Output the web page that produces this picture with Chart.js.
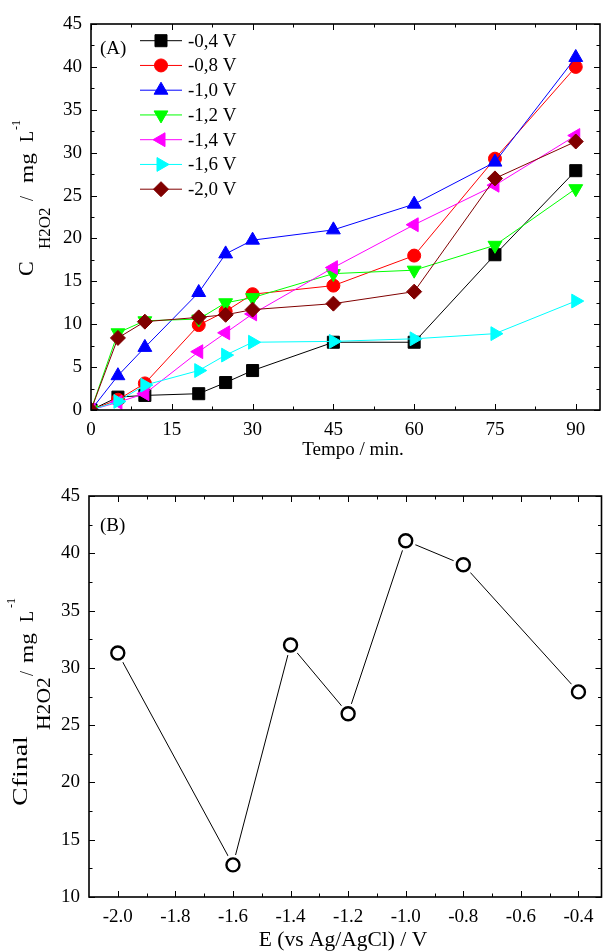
<!DOCTYPE html>
<html><head><meta charset="utf-8">
<script src="https://cdn.jsdelivr.net/npm/chart.js@4.4.0/dist/chart.umd.min.js"></script>
<style>
html,body{margin:0;padding:0;background:#fff;}
#wrap{position:relative;width:603px;height:952px;overflow:hidden;background:#fff;}
canvas{position:absolute;left:0;}
#c1{top:0;} #c2{top:470px;}
</style></head><body>
<div id="wrap"><canvas id="c1" width="603" height="470"></canvas><canvas id="c2" width="603" height="482"></canvas></div>
<script>
// ---------- data (panel A) ----------
const timeMin = [0, 5, 10, 20, 25, 30, 45, 60, 75, 90];
const seriesLabels = ['-0,4 V', '-0,8 V', '-1,0 V', '-1,2 V', '-1,4 V', '-1,6 V', '-2,0 V'];
const s04 = [0, 1.5, 1.7, 1.9, 3.2, 4.6, 7.9, 7.9, 18.1, 27.9];
const s08 = [0, 1.2, 3.1, 9.9, 11.5, 13.5, 14.5, 18.0, 29.3, 40.0];
const s10 = [0, 4.0, 7.3, 13.7, 18.2, 19.8, 21.0, 24.0, 28.9, 41.1];
const s12 = [0, 9.0, 10.4, 10.6, 12.5, 13.1, 15.9, 16.3, 19.2, 25.8];
const s14 = [0, 0.9, 1.9, 6.8, 9.0, 11.2, 16.6, 21.6, 26.2, 32.0];
const s16 = [0, 1.0, 2.9, 4.6, 6.4, 7.9, 8.0, 8.3, 8.9, 12.7];
const s20 = [0, 8.4, 10.3, 10.8, 11.1, 11.7, 12.4, 13.8, 27.0, 31.3];
const timeTicks = [0, 15, 30, 45, 60, 75, 90];
const concTicksA = [0, 5, 10, 15, 20, 25, 30, 35, 40, 45];
// ---------- data (panel B) ----------
const potentials = [-2.0, -1.6, -1.4, -1.2, -1.0, -0.8, -0.4];
const finalConc = [31.3, 12.8, 32.0, 26.0, 41.1, 39.0, 27.9];
const potentialTicks = [-2.0, -1.8, -1.6, -1.4, -1.2, -1.0, -0.8, -0.6, -0.4];
const concTicksB = [10, 15, 20, 25, 30, 35, 40, 45];

// ---------- styles ----------
const seriesValues = [s04, s08, s10, s12, s14, s16, s20];
const seriesColors = ['#000000', '#ff0000', '#0000ff', '#00ff00', '#ff00ff', '#00ffff', '#800000'];
const markerStyles = ['rect', 'circle', 'triangle', 'triangle', 'triangle', 'triangle', 'rectRot'];
const markerRot = [0, 0, 0, 180, 270, 90, 0];
const markerRad = [8.5, 6.5, 8, 8, 8, 8, 7.5];
const SERIF = '"Liberation Serif", "Times New Roman", serif';

function minors(ticks) {
  const m = [];
  for (let i = 0; i < ticks.length - 1; i++) m.push((ticks[i] + ticks[i + 1]) / 2);
  return m;
}

const framePlugin = {
  id: 'frameTicks',
  afterDraw(chart) {
    const {ctx, chartArea: a} = chart;
    const xs = chart.scales.x, ys = chart.scales.y;
    const cfg = chart.options.plugins.frameTicks;
    ctx.save();
    ctx.strokeStyle = '#000';
    ctx.lineWidth = 1;
    ctx.beginPath();
    const seg = (x1, y1, x2, y2) => { ctx.moveTo(x1, y1); ctx.lineTo(x2, y2); };
    const xv = (list, len) => list.forEach(v => {
      const p = Math.round(xs.getPixelForValue(v)) + 0.5;
      if (p < a.left - 1 || p > a.right + 1) return;
      seg(p, a.bottom, p, a.bottom - len); seg(p, a.top, p, a.top + len);
    });
    const yv = (list, len) => list.forEach(v => {
      const p = Math.round(ys.getPixelForValue(v)) + 0.5;
      if (p < a.top - 1 || p > a.bottom + 1) return;
      seg(a.left, p, a.left + len, p); seg(a.right, p, a.right - len, p);
    });
    xv(cfg.xMajor, 6); xv(minors(cfg.xMajor), 3.5);
    yv(cfg.yMajor, 6); yv(minors(cfg.yMajor), 3.5);
    ctx.stroke();
    ctx.lineWidth = 1.6;
    ctx.strokeRect(a.left, a.top, a.right - a.left, a.bottom - a.top);
    ctx.restore();
  }
};

const titlePlugin = {
  id: 'richTitles',
  afterDraw(chart) {
    const ctx = chart.ctx;
    const cfg = chart.options.plugins.richTitles;
    ctx.save();
    ctx.fillStyle = '#000';
    ctx.textBaseline = 'alphabetic';
    ctx.textAlign = 'left';
    (cfg.rotated || []).forEach(p => {
      ctx.save();
      ctx.translate(p.x, p.y);
      ctx.rotate(-Math.PI / 2);
      ctx.scale(p.sx || 1, 1);
      ctx.font = p.size + 'px ' + SERIF;
      ctx.fillText(p.t, 0, 0);
      ctx.restore();
    });
    (cfg.flat || []).forEach(p => {
      ctx.font = p.size + 'px ' + SERIF;
      ctx.textAlign = p.align || 'left';
      ctx.fillText(p.t, p.x, p.y);
    });
    ctx.restore();
  }
};

const legendPlugin = {
  id: 'inlineLegend',
  afterDatasetsDraw(chart) {
    const ctx = chart.ctx;
    chart.data.datasets.forEach((ds, i) => {
      const y = 40.7 + i * 24.75;
      ctx.save();
      ctx.strokeStyle = ds.borderColor; ctx.lineWidth = 1;
      ctx.beginPath(); ctx.moveTo(140, y); ctx.lineTo(182, y); ctx.stroke();
      ctx.fillStyle = ds.backgroundColor; ctx.strokeStyle = ds.borderColor;
      Chart.helpers.drawPoint(ctx, {pointStyle: ds.pointStyle, radius: ds.pointRadius, rotation: ds.pointRotation || 0, borderWidth: 1}, 161, y);
      ctx.fillStyle = '#000';
      ctx.font = '19px ' + SERIF;
      ctx.textBaseline = 'middle'; ctx.textAlign = 'left';
      ctx.fillText(ds.label, 188, y + 1);
      ctx.restore();
    });
  }
};

const tickFont = {family: SERIF, size: 19};
const noPad = s => { s.paddingLeft = 0; s.paddingRight = 0; };

// ---------- panel A ----------
new Chart(document.getElementById('c1'), {
  type: 'line',
  data: {
    datasets: seriesValues.map((vals, i) => ({
      label: seriesLabels[i],
      data: timeMin.map((t, j) => ({x: t, y: vals[j]})),
      borderColor: seriesColors[i],
      backgroundColor: seriesColors[i],
      borderWidth: 1,
      pointStyle: markerStyles[i],
      pointRotation: markerRot[i],
      pointRadius: markerRad[i],
      pointBorderWidth: 1,
      pointBackgroundColor: seriesColors[i],
      pointBorderColor: seriesColors[i],
      tension: 0,
      fill: false,
      order: seriesValues.length - i
    }))
  },
  options: {
    responsive: false, animation: false, devicePixelRatio: 1,
    layout: {autoPadding: false, padding: {top: 24, right: 3, left: 0, bottom: 0}},
    plugins: {
      legend: {display: false}, tooltip: {enabled: false},
      frameTicks: {xMajor: timeTicks, yMajor: concTicksA},
      richTitles: {
        rotated: [
          {t: 'C', size: 22, x: 33, y: 276},
          {t: 'H2O2', size: 17, x: 50, y: 249},
          {t: '/', size: 18, x: 33, y: 201},
          {t: 'mg', size: 18, x: 33, y: 183, sx: 1.3},
          {t: 'L', size: 18, x: 33, y: 142},
          {t: '-1', size: 12, x: 20, y: 130}
        ],
        flat: [
          {t: 'Tempo / min.', size: 19, x: 353, y: 455, align: 'center'},
          {t: '(A)', size: 19, x: 100, y: 54}
        ]
      }
    },
    scales: {
      x: {
        type: 'linear', min: 0, max: 94.5,
        grid: {display: false, drawTicks: false}, border: {display: false},
        afterBuildTicks: s => { s.ticks = timeTicks.map(v => ({value: v})); },
        afterFit: s => { s.height = 60; noPad(s); },
        ticks: {padding: 9, color: '#000', font: tickFont, maxRotation: 0, autoSkip: false}
      },
      y: {
        type: 'linear', min: 0, max: 45,
        grid: {display: false, drawTicks: false}, border: {display: false},
        afterBuildTicks: s => { s.ticks = concTicksA.map(v => ({value: v})); },
        afterFit: s => { s.width = 91; },
        ticks: {padding: 9, color: '#000', font: tickFont, autoSkip: false}
      }
    }
  },
  plugins: [framePlugin, legendPlugin, titlePlugin]
});

// ---------- panel B ----------
const ptsB = potentials.map((p, j) => ({x: p, y: finalConc[j]}));
new Chart(document.getElementById('c2'), {
  type: 'line',
  data: {
    datasets: [
      {label: 'markers', data: ptsB, showLine: false, pointStyle: 'circle', pointRadius: 6.5,
       pointBorderWidth: 2.4, pointBorderColor: '#000', pointBackgroundColor: '#fff', order: 1},
      {label: 'gap', data: ptsB, showLine: false, pointStyle: 'circle', pointRadius: 10.5,
       pointBorderWidth: 0, pointBorderColor: '#fff', pointBackgroundColor: '#fff', order: 2},
      {label: 'line', data: ptsB, borderColor: '#000', borderWidth: 1, pointRadius: 0, tension: 0, fill: false, order: 3}
    ]
  },
  options: {
    responsive: false, animation: false, devicePixelRatio: 1,
    layout: {autoPadding: false, padding: {top: 26, right: 1.5, left: 0, bottom: 0}},
    plugins: {
      legend: {display: false}, tooltip: {enabled: false},
      frameTicks: {xMajor: potentialTicks, yMajor: concTicksB},
      richTitles: {
        rotated: [
          {t: 'Cfinal', size: 22, x: 27, y: 336, sx: 1.27},
          {t: 'H2O2', size: 18, x: 50, y: 260, sx: 1.2},
          {t: '/', size: 18, x: 33, y: 206},
          {t: 'mg', size: 18, x: 33, y: 193, sx: 1.3},
          {t: 'L', size: 18, x: 33, y: 152},
          {t: '-1', size: 12, x: 15, y: 138}
        ],
        flat: [
          {t: 'E (vs Ag/AgCl) / V', size: 21.5, x: 343, y: 476, align: 'center'},
          {t: '(B)', size: 19, x: 100, y: 61}
        ]
      }
    },
    scales: {
      x: {
        type: 'linear', min: -2.1, max: -0.32,
        grid: {display: false, drawTicks: false}, border: {display: false},
        afterBuildTicks: s => { s.ticks = potentialTicks.map(v => ({value: v})); },
        afterFit: s => { s.height = 55; noPad(s); },
        ticks: {padding: 9, color: '#000', font: tickFont, maxRotation: 0, autoSkip: false,
                callback: v => Number(v).toFixed(1)}
      },
      y: {
        type: 'linear', min: 10, max: 45,
        grid: {display: false, drawTicks: false}, border: {display: false},
        afterBuildTicks: s => { s.ticks = concTicksB.map(v => ({value: v})); },
        afterFit: s => { s.width = 89; },
        ticks: {padding: 9, color: '#000', font: tickFont, autoSkip: false}
      }
    }
  },
  plugins: [framePlugin, titlePlugin]
});
</script>
</body></html>
